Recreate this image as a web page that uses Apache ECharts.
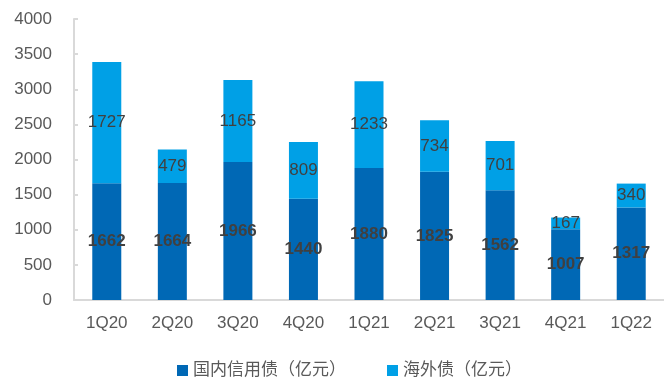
<!DOCTYPE html>
<html>
<head>
<meta charset="utf-8">
<script src="https://cdn.jsdelivr.net/npm/echarts@6/dist/echarts.min.js"></script>
<style>
  html, body { margin: 0; padding: 0; background: #fff; }
  #chart { width: 664px; height: 380px; }
</style>
</head>
<body>
<div id="chart"></div>
<script>
// Quarterly credit bond issuance, stacked by market
const quarters = ['1Q20', '2Q20', '3Q20', '4Q20', '1Q21', '2Q21', '3Q21', '4Q21', '1Q22'];
const domesticCredit = [1662, 1664, 1966, 1440, 1880, 1825, 1562, 1007, 1317];
const overseasBonds = [1727, 479, 1165, 809, 1233, 734, 701, 167, 340];
const seriesNames = ['国内信用债（亿元）', '海外债（亿元）'];

const font = '"Liberation Sans", Arial, "Noto Sans CJK SC", sans-serif';
const axisGray = '#d9d9d9';
const textGray = '#595959';

const chart = echarts.init(document.getElementById('chart'), null, { renderer: 'canvas' });
chart.setOption({
  animation: false,
  textStyle: { fontFamily: font },
  grid: { left: 74, top: 19, bottom: 80, width: 594, containLabel: false },
  legend: {
    top: 357,
    left: 172,
    itemWidth: 11,
    itemHeight: 11,
    itemGap: 41,
    icon: 'rect',
    textStyle: { fontSize: 17, color: textGray, fontFamily: font },
    data: seriesNames
  },
  xAxis: {
    type: 'category',
    data: quarters,
    axisLine: { lineStyle: { color: axisGray, width: 2 } },
    axisTick: { inside: true, length: 4, lineStyle: { color: axisGray, width: 2 } },
    axisLabel: { fontSize: 17, color: textGray, margin: 15 }
  },
  yAxis: {
    type: 'value',
    min: 0,
    max: 4000,
    interval: 500,
    splitLine: { show: false },
    axisLine: { show: true, lineStyle: { color: axisGray, width: 2 } },
    axisTick: { show: true, inside: true, length: 4, lineStyle: { color: axisGray, width: 2 } },
    axisLabel: { fontSize: 17, color: textGray, margin: 22, formatter: v => String(v) }
  },
  series: [
    {
      name: seriesNames[0],
      type: 'bar',
      stack: 'total',
      barWidth: 29,
      data: domesticCredit,
      itemStyle: { color: '#0068b5' },
      label: {
        show: true,
        position: 'inside',
        fontSize: 17,
        fontWeight: 'bold',
        color: '#404040',
        fontFamily: font
      }
    },
    {
      name: seriesNames[1],
      type: 'bar',
      stack: 'total',
      barWidth: 29,
      data: overseasBonds,
      itemStyle: { color: '#00a0e6' },
      label: {
        show: true,
        position: 'inside',
        fontSize: 17,
        color: '#404040',
        fontFamily: font
      }
    }
  ]
});
</script>
</body>
</html>
